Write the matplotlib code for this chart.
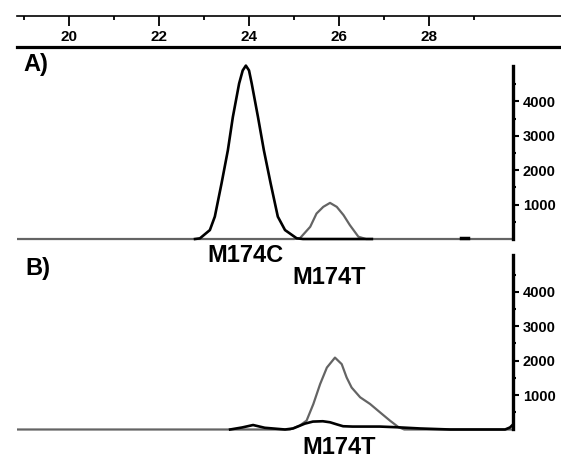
import matplotlib
matplotlib.use('Agg')
import matplotlib.pyplot as plt

# values (x = elution volume, y = signal)
a_black_x = [22.80, 22.91, 23.13, 23.24, 23.39, 23.53, 23.64, 23.78, 23.86, 23.93, 24.00, 24.06, 24.20,
             24.33, 24.48, 24.64, 24.80, 25.06, 25.20, 25.60, 26.20, 26.73]
a_black_y = [0, 20, 260, 650, 1620, 2580, 3540, 4520, 4900, 5040, 4900, 4520, 3540,
             2580, 1620, 650, 260, 20, 0, 0, 0, 0]
a_gray_x = [18.84, 25.00, 25.13, 25.36, 25.50, 25.65, 25.80, 25.95, 26.10, 26.24, 26.43, 26.60, 29.87]
a_gray_y = [0, 0, 20, 355, 740, 935, 1050, 935, 695, 406, 67, 0, 0]
a_blip_x = [28.72, 28.86]
a_blip_y = [30, 30]

b_gray_x = [18.84, 24.91, 25.13, 25.28, 25.43, 25.58, 25.73, 25.91, 26.06, 26.17, 26.28,
            26.47, 26.69, 26.91, 27.13, 27.32, 27.45, 29.87]
b_gray_y = [0, 0, 116, 260, 742, 1320, 1800, 2090, 1900, 1510, 1220,
            936, 742, 500, 260, 70, 0, 0]
b_black_x = [23.58, 23.85, 24.09, 24.35, 24.80, 24.98, 25.24, 25.42, 25.64, 25.80, 25.96,
             26.09, 26.30, 26.53, 26.91, 27.29, 27.80, 28.47, 29.69, 29.80, 29.87]
b_black_y = [0, 60, 130, 50, 0, 30, 170, 230, 240, 210, 145,
             95, 85, 85, 85, 65, 30, 0, 0, 60, 150]

x_major = [20, 22, 24, 26, 28]
x_minor = [19, 21, 23, 25, 27, 29]
y_major = [1000, 2000, 3000, 4000]
y_minor = [500, 1500, 2500, 3500, 4500]

W, H = 561, 457
fig = plt.figure(figsize=(W / 100, H / 100), dpi=100)

def fx(px):
    return px / W

def fy(py):
    return 1 - py / H

X0, X1 = 18.844, 30.933
XAX = 29.867  # where the intensity axis sits
label_font = ['Liberation Sans Narrow', 'Liberation Sans', 'DejaVu Sans']
tick_font = ['Liberation Sans', 'DejaVu Sans']
GRAY = '#646464'

# top elution-volume axis
ax_t = fig.add_axes([fx(17), fy(16), fx(561) - fx(17), 0.002])
ax_t.set_xlim(X0, X1)
ax_t.set_yticks([])
for s in ['top', 'left', 'right']:
    ax_t.spines[s].set_visible(False)
ax_t.spines['bottom'].set_linewidth(1.2)
ax_t.patch.set_visible(False)
ax_t.set_xticks(x_major)
ax_t.set_xticks(x_minor, minor=True)
ax_t.tick_params(axis='x', which='major', direction='out', length=7, width=1.3, pad=3)
ax_t.tick_params(axis='x', which='minor', direction='out', length=3, width=1.3)
for lab in ax_t.get_xticklabels():
    lab.set_fontfamily(tick_font)
    lab.set_fontweight('bold')
    lab.set_fontsize(11)


def panel(ax, ytop, ybot, spine_top):
    ax.set_xlim(X0, X1)
    ax.set_ylim(ybot, ytop)
    ax.patch.set_visible(False)
    ax.spines['left'].set_visible(False)
    ax.spines['bottom'].set_visible(False)
    ax.spines['top'].set_linewidth(2.3)
    ax.spines['right'].set_position(('data', XAX))
    ax.spines['right'].set_bounds(0, spine_top)
    ax.spines['right'].set_linewidth(2.4)
    ax.set_xticks([])
    ax.yaxis.tick_right()
    ax.set_yticks(y_major)
    ax.set_yticks(y_minor, minor=True)
    ax.tick_params(axis='y', which='major', direction='out', length=4, width=1.5, pad=3)
    ax.tick_params(axis='y', which='minor', direction='out', length=2, width=1.5)
    for lab in ax.get_yticklabels():
        lab.set_fontfamily(tick_font)
        lab.set_fontweight('bold')
        lab.set_fontsize(10.5)


# panel A
axA = fig.add_axes([fx(17), fy(245), fx(561) - fx(17), fy(47) - fy(245)])
panel(axA, 5581, -174, 5040)
axA.plot(a_gray_x, a_gray_y, color=GRAY, lw=1.6, zorder=2, solid_capstyle='butt')
axA.plot(a_black_x, a_black_y, color='black', lw=1.9, zorder=3)
axA.plot(a_blip_x, a_blip_y, color='black', lw=2.5, zorder=3)

# panel B
axB = fig.add_axes([fx(17), fy(436), fx(561) - fx(17), fy(250) - fy(436)])
panel(axB, 5218, -189, 5070)
axB.spines['top'].set_visible(False)
axB.plot(b_gray_x, b_gray_y, color=GRAY, lw=1.6, zorder=2, solid_capstyle='butt')
axB.plot(b_black_x, b_black_y, color='black', lw=1.9, zorder=3)

# panel letters and peak names
labels = [('A)', 36, 65), ('B)', 38, 268), ('M174C', 245, 256),
          ('M174T', 329, 278), ('M174T', 339, 447)]
for txt, px, py in labels:
    fig.text(fx(px), fy(py), txt, family=label_font, fontweight='bold',
             fontsize=17, ha='center', va='center')

fig.savefig('out.png', dpi=100)
